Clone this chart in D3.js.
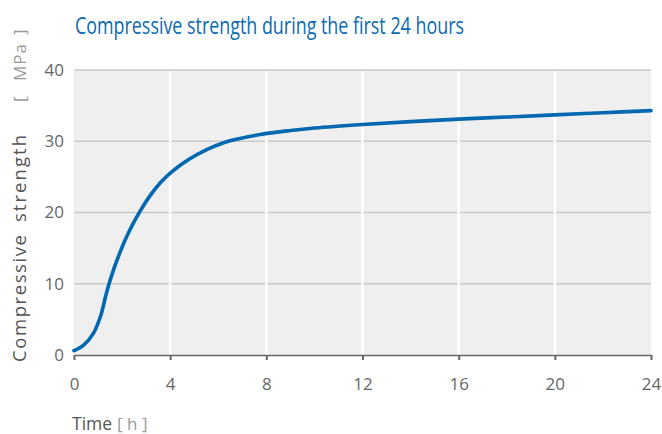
<!DOCTYPE html>
<html>
<head>
<meta charset="utf-8">
<script src="https://cdn.jsdelivr.net/npm/d3@7"></script>
<style>
  html, body { margin: 0; padding: 0; background: #fff; }
  svg { display: block; }
  text { font-family: "Open Sans", "Noto Sans", sans-serif; }
</style>
</head>
<body>
<svg id="chart" width="662" height="434"></svg>
<script>
// ---- Data ----
const hours    = [0, 0.4, 0.8, 1.1, 1.35, 1.55, 1.9, 2.3, 2.75, 3.15, 3.6, 4.1, 4.8, 5.5, 6.2, 6.8, 7.75, 9, 10, 12, 14, 16, 18, 20, 22, 24];
const strength = [0.6, 1.4, 3.0, 5.4, 8.7, 11.0, 14.3, 17.4, 20.2, 22.3, 24.2, 25.8, 27.5, 28.8, 29.75, 30.3, 30.95, 31.5, 31.85, 32.35, 32.75, 33.1, 33.4, 33.7, 34.0, 34.3];
const xTicks = [0, 4, 8, 12, 16, 20, 24];
const yTicks = [0, 10, 20, 30, 40];
const titleText = "Compressive strength during the first 24 hours";

// ---- Layout ----
const svg = d3.select("#chart");
const pLeft = 74, pRight = 651, pTop = 70, pBottom = 355;
const x = d3.scaleLinear().domain([0, 24]).range([pLeft, pRight]);
const y = d3.scaleLinear().domain([0, 40]).range([pBottom, pTop]);

// background
svg.append("rect")
  .attr("x", pLeft).attr("y", pTop)
  .attr("width", pRight - pLeft).attr("height", pBottom - pTop)
  .attr("fill", "#efefef");

// horizontal gridlines
svg.append("g").selectAll("line")
  .data(yTicks.filter(d => d > 0))
  .join("line")
  .attr("x1", pLeft).attr("x2", pRight)
  .attr("y1", d => y(d)).attr("y2", d => y(d))
  .attr("stroke", "#c9c9c9").attr("stroke-width", 1.4);

// vertical white gridlines
svg.append("g").selectAll("line")
  .data(xTicks.filter(d => d > 0 && d < 24))
  .join("line")
  .attr("x1", d => x(d)).attr("x2", d => x(d))
  .attr("y1", pBottom).attr("y2", pTop + 1.5)
  .attr("stroke", "#ffffff").attr("stroke-width", 2.6);

// x axis
const xAxis = svg.append("g")
  .attr("transform", `translate(0,${pBottom})`)
  .call(d3.axisBottom(x).tickValues(xTicks).tickSize(5).tickSizeOuter(0).tickPadding(18));
xAxis.select(".domain").attr("stroke", "#666").attr("stroke-width", 1.6);
xAxis.selectAll(".tick line").attr("stroke", "#666").attr("stroke-width", 2);
xAxis.selectAll(".tick text")
  .attr("fill", "#666").attr("font-size", 17).attr("font-family", "'Open Sans', sans-serif");

// y axis labels
const yAxis = svg.append("g")
  .attr("transform", `translate(${pLeft},0)`)
  .call(d3.axisLeft(y).tickValues(yTicks).tickSize(0).tickPadding(10));
yAxis.select(".domain").remove();
yAxis.selectAll(".tick text")
  .attr("fill", "#666").attr("font-size", 17).attr("font-family", "'Open Sans', sans-serif");

// curve
const line = d3.line()
  .x((d, i) => x(hours[i]))
  .y(d => y(d))
  .curve(d3.curveCatmullRom.alpha(0.5));
svg.append("path")
  .datum(strength)
  .attr("d", line)
  .attr("fill", "none")
  .attr("stroke", "#0067b1")
  .attr("stroke-width", 3.6)
  .attr("stroke-linecap", "round");

// title
svg.append("text")
  .attr("x", 75).attr("y", 33.5)
  .attr("fill", "#0a6ab0")
  .attr("font-size", 23)
  .attr("textLength", 389).attr("lengthAdjust", "spacingAndGlyphs")
  .text(titleText);

// x axis title
const xt = svg.append("text").attr("x", 72).attr("y", 430).attr("font-size", 17.5);
xt.append("tspan").attr("fill", "#555").text("Time");
xt.append("tspan").attr("fill", "#999").attr("dx", 5).attr("font-size", 17).text("[ h ]");

// y axis title (rotated)
const yl = svg.append("g").attr("transform", "translate(26,0) rotate(-90)");
yl.append("text").attr("x", -362).attr("y", 0).attr("font-size", 18.5).attr("fill", "#555")
  .attr("textLength", 127).attr("lengthAdjust", "spacing").text("Compressive");
yl.append("text").attr("x", -222).attr("y", 0).attr("font-size", 18.5).attr("fill", "#555")
  .attr("textLength", 87).attr("lengthAdjust", "spacing").text("strength");
yl.append("text").attr("x", -102).attr("y", 0).attr("font-size", 17).attr("fill", "#999").text("[");
yl.append("text").attr("x", -81).attr("y", 0).attr("font-size", 17).attr("fill", "#999")
  .attr("textLength", 37).attr("lengthAdjust", "spacing").text("MPa");
yl.append("text").attr("x", -35).attr("y", 0).attr("font-size", 17).attr("fill", "#999").text("]");
</script>
</body>
</html>
